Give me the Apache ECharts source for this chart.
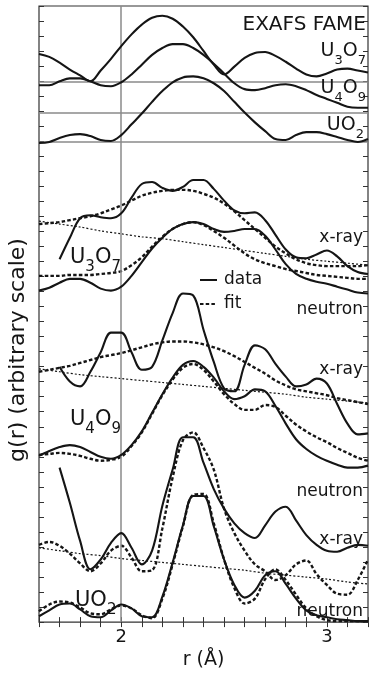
<!DOCTYPE html>
<html>
<head>
<meta charset="utf-8">
<script src="https://cdn.jsdelivr.net/npm/echarts@6/dist/echarts.min.js"></script>
<style>
html,body{margin:0;padding:0;background:#fff;}
#chart{width:371px;height:675px;}
</style>
</head>
<body>
<div id="chart"></div>
<script>
// r grid (Å)
const R = [1.60,1.65,1.70,1.75,1.80,1.85,1.90,1.95,2.00,2.05,2.10,2.15,2.20,2.25,2.30,2.35,2.40,2.45,2.50,2.55,2.60,2.65,2.70,2.75,2.80,2.85,2.90,2.95,3.00,3.05,3.10,3.15,3.20];
const R_BG = [1.6,1.7,1.8,1.9,2.0,2.1,2.2,2.3,2.4,2.5,2.6,2.7,2.8,2.9,3.0,3.1,3.2];

// EXAFS FAME panel (arbitrary units)
const exafsU3O7 = [58.1,57.8,57.2,56.5,55.9,55.3,56.4,57.6,58.9,60.1,61.1,61.8,62.0,61.7,60.9,59.8,58.4,57.0,56.0,56.8,57.7,58.2,58.3,57.9,57.3,56.6,56.0,55.8,56.1,56.5,56.6,56.4,56.2];
const exafsU4O9 = [54.9,54.9,55.3,55.6,55.6,55.3,54.9,54.8,55.2,56.0,57.0,58.0,58.7,59.1,59.1,58.7,58.0,57.1,56.1,55.1,54.5,54.4,54.6,54.9,55.0,54.8,54.4,53.9,53.5,53.1,52.7,52.6,52.6];
const exafsUO2  = [49.0,49.1,49.5,49.8,49.9,49.7,49.3,49.2,49.8,50.9,52.0,53.2,54.3,55.2,55.7,55.8,55.6,55.1,54.3,53.2,52.1,51.1,50.2,49.4,49.3,49.8,50.1,50.1,49.9,49.6,49.3,49.1,49.4];
const exafsBaselines = [55.3, 52.1, 49.1];

// U3O7
const u3o7Xray     = [null,null,37.1,39.3,41.3,41.6,41.4,41.3,41.8,43.4,44.8,45.0,44.4,44.1,44.5,45.2,45.2,44.3,43.1,42.1,41.8,41.9,41.1,39.6,38.1,37.3,37.2,37.6,38.0,37.4,36.4,35.8,35.6];
const u3o7XrayFit  = [40.7,40.8,40.9,41.1,41.3,41.5,41.8,42.2,42.6,43.1,43.6,43.9,44.1,44.2,44.2,44.1,43.8,43.4,42.8,42.0,41.1,40.2,39.3,38.4,37.7,37.1,36.7,36.5,36.4,36.4,36.4,36.4,36.5];
const u3o7XrayBg   = [41.0,40.7,40.4,40.0,39.7,39.4,39.2,38.9,38.6,38.3,38.0,37.7,37.4,37.1,36.9,36.7,36.5];
const u3o7Neutron  = [33.9,34.2,34.7,35.1,35.1,34.7,34.1,33.9,34.3,35.4,36.8,38.2,39.3,40.2,40.7,40.9,40.7,40.2,39.9,40.0,40.2,40.2,39.5,38.1,36.6,35.6,35.1,34.8,34.6,34.3,34.0,33.7,33.6];
const u3o7NeutronFit = [35.4,35.4,35.4,35.5,35.5,35.5,35.6,35.7,35.9,36.5,37.3,38.4,39.4,40.2,40.7,40.9,40.6,40.0,39.3,38.5,37.7,37.1,36.7,36.4,36.1,35.9,35.7,35.5,35.4,35.3,35.2,35.1,35.1];

// U4O9
const u4o9Xray     = [null,null,26.1,24.6,24.1,25.6,27.6,29.6,29.6,27.6,25.8,26.1,28.8,31.6,33.6,33.4,29.9,26.6,23.9,23.6,26.3,28.3,27.9,26.4,25.1,24.1,24.3,24.9,24.4,22.3,20.3,19.2,19.3];
const u4o9XrayFit  = [25.6,25.8,26.0,26.2,26.5,26.8,27.1,27.3,27.5,27.8,28.1,28.4,28.6,28.7,28.7,28.6,28.4,28.1,27.7,27.2,26.6,26.0,25.4,24.7,24.2,23.8,23.6,23.4,23.2,22.9,22.7,22.5,22.3];
const u4o9XrayBg   = [25.9,25.6,25.3,25.1,24.9,24.7,24.5,24.3,24.1,23.9,23.7,23.5,23.3,23.0,22.8,22.6,22.4];
const u4o9Neutron  = [17.0,17.5,17.9,18.1,17.9,17.4,16.9,16.7,17.1,18.1,19.5,21.4,23.3,25.0,26.3,26.7,26.1,25.0,23.6,22.8,23.1,23.8,23.6,22.1,20.3,18.7,17.7,17.0,16.5,16.1,15.8,15.8,16.0];
const u4o9NeutronFit = [17.1,17.2,17.3,17.2,17.0,16.7,16.5,16.6,16.9,18.0,19.4,21.3,23.2,24.8,26.0,26.4,25.8,24.6,23.3,22.3,21.7,21.7,22.2,22.0,21.1,20.2,19.5,18.9,18.4,17.8,17.3,16.8,16.5];

// UO2
const uo2Xray      = [null,null,15.8,12.2,8.3,5.4,6.4,8.1,9.1,7.6,5.9,7.3,11.9,15.6,18.9,18.9,16.3,13.6,11.6,10.1,9.1,8.6,9.9,11.3,11.8,10.4,8.9,7.9,7.3,7.2,7.6,7.9,7.8];
const uo2XrayFit   = [7.9,8.2,7.8,7.0,6.0,5.2,6.0,7.3,7.8,6.6,5.2,5.3,9.6,14.8,18.6,19.4,17.8,15.6,11.6,9.1,7.3,5.9,5.2,4.3,4.8,5.9,6.3,4.9,3.8,2.9,2.8,4.3,6.4];
const uo2XrayBg    = [7.6,7.3,7.0,6.8,6.5,6.3,6.1,5.9,5.7,5.5,5.3,5.0,4.8,4.6,4.4,4.1,3.9];
const uo2Neutron   = [0.6,1.2,1.8,1.9,1.3,0.6,0.5,1.2,1.8,1.4,0.6,0.5,2.6,6.1,9.9,12.9,12.9,9.8,6.4,3.8,2.5,3.2,4.8,5.2,3.9,2.4,1.2,0.7,0.5,0.3,0.2,0.1,0.1];
const uo2NeutronFit= [1.1,1.8,2.1,2.0,1.5,0.9,0.8,1.3,1.7,1.4,0.7,0.4,2.4,5.9,9.8,13.0,13.1,10.1,6.4,3.5,1.9,2.4,4.4,5.4,4.3,2.8,1.4,0.6,0.2,0.1,0.1,0.1,0.1];

const X_MIN = 1.6, X_MAX = 3.2, Y_MIN = 0, Y_MAX = 63, Y_TICKS = 41;
const FONT = 'DejaVu Sans';
const INK = '#151515';

function pairs(xs, ys){ const out=[]; xs.forEach((x,i)=>{ if(ys[i]!==null) out.push([x, ys[i]]); }); return out; }

function solid(name, xs, ys){
  return {name, type:'line', data:pairs(xs,ys), symbol:'none', smooth:0.35, silent:true,
    lineStyle:{color:INK, width:2.1}, z:5};
}
function fit(name, xs, ys){
  return {name, type:'line', data:pairs(xs,ys), symbol:'none', smooth:0.35, silent:true,
    lineStyle:{color:INK, width:2.4, type:[3.5,2.2]}, z:4};
}
function bg(name, xs, ys){
  return {name, type:'line', data:pairs(xs,ys), symbol:'none', smooth:0.3, silent:true,
    lineStyle:{color:INK, width:1.2, type:[2,2]}, z:3};
}

const chart = echarts.init(document.getElementById('chart'), null, {renderer:'canvas'});

function richText(parts, subs){
  return parts.map((m,i)=> '{m|'+m+'}' + (subs[i] ? '{s|'+subs[i]+'}' : '')).join('');
}
// chemical formula label: main text top-aligned, subscripts pushed down
function formula(x, yTop, parts, subs, size, subSize, align){
  return {type:'text', x, y:yTop, z:10, silent:true,
    style:{text:richText(parts, subs), align:align||'right', verticalAlign:'top',
      rich:{
        m:{fontFamily:FONT, fontSize:size, fill:INK, verticalAlign:'top', lineHeight:size},
        s:{fontFamily:FONT, fontSize:subSize, fill:INK, verticalAlign:'top', lineHeight:subSize,
           padding:[Math.round(size*0.62),0,0,0]}
      }}};
}
function plainLabel(x, y, text, size, align){
  return {type:'text', x, y, z:10, silent:true,
    style:{text, fontFamily:FONT, fontSize:size, fill:INK, align:align||'right', verticalAlign:'middle'}};
}

const option = {
  animation:false,
  backgroundColor:'#fff',
  grid:{left:39, right:1, top:6, bottom:39, show:true, borderColor:'#333', borderWidth:1.2, backgroundColor:'transparent'},
  xAxis:[
    {type:'value', min:X_MIN, max:X_MAX, interval:0.1, position:'bottom',
     axisLine:{show:false}, splitLine:{show:false},
     axisTick:{inside:true, length:5, lineStyle:{color:'#333', width:1}},
     axisLabel:{margin:6, fontFamily:FONT, fontSize:18, color:INK,
       formatter:v=> Math.abs(v-2)<1e-6 ? '2' : (Math.abs(v-3)<1e-6 ? '3' : '')},
     name:'r (Å)', nameLocation:'middle', nameGap:17,
     nameTextStyle:{fontFamily:FONT, fontSize:19, color:INK, verticalAlign:'top'}},
    {type:'value', min:X_MIN, max:X_MAX, interval:0.1, position:'top',
     axisLine:{show:false}, splitLine:{show:false}, axisLabel:{show:false},
     axisTick:{inside:true, length:5, lineStyle:{color:'#333', width:1}}}
  ],
  yAxis:[
    {type:'value', min:Y_MIN, max:Y_MAX, interval:(Y_MAX-Y_MIN)/Y_TICKS, position:'left',
     axisLine:{show:false}, splitLine:{show:false}, axisLabel:{show:false},
     axisTick:{inside:true, length:5, lineStyle:{color:'#333', width:1}}},
    {type:'value', min:Y_MIN, max:Y_MAX, interval:(Y_MAX-Y_MIN)/Y_TICKS, position:'right',
     axisLine:{show:false}, splitLine:{show:false}, axisLabel:{show:false},
     axisTick:{inside:true, length:5, lineStyle:{color:'#333', width:1}}}
  ],
  graphic:[
    plainLabel(366, 25, 'EXAFS FAME', 20),
    formula(366, 42, ['U','O'], ['3','7'], 19, 13),
    formula(366, 79, ['U','O'], ['4','9'], 19, 13),
    formula(364, 116, ['UO'], ['2'], 19, 13),
    plainLabel(363, 238, 'x-ray', 17),
    formula(70, 247, ['U','O'], ['3','7'], 21, 15, 'left'),
    {type:'line', z:10, silent:true, shape:{x1:200,y1:280,x2:217,y2:280}, style:{stroke:INK, lineWidth:2}},
    plainLabel(224, 280, 'data', 17, 'left'),
    {type:'line', z:10, silent:true, shape:{x1:200,y1:304,x2:217,y2:304}, style:{stroke:INK, lineWidth:2, lineDash:[3.5,2.2]}},
    plainLabel(224, 304, 'fit', 17, 'left'),
    plainLabel(363, 310, 'neutron', 17),
    plainLabel(363, 370, 'x-ray', 17),
    formula(70, 409, ['U','O'], ['4','9'], 21, 15, 'left'),
    plainLabel(363, 492, 'neutron', 17),
    plainLabel(363, 540, 'x-ray', 17),
    formula(75, 590, ['UO'], ['2'], 21, 15, 'left'),
    plainLabel(363, 612, 'neutron', 17),
    {type:'text', x:18, y:350, rotation:Math.PI/2, z:10, silent:true,
     style:{text:'g(r) (arbitrary scale)', fontFamily:FONT, fontSize:22, fill:INK, align:'center', verticalAlign:'middle'}}
  ],
  series:[
    {type:'line', data:[], silent:true,
     markLine:{silent:true, symbol:'none', label:{show:false},
       lineStyle:{color:'#8a8a8a', width:1.5, type:'solid'},
       data:[{xAxis:2}].concat(exafsBaselines.map(v=>({yAxis:v})))}},
    solid('EXAFS U3O7', R, exafsU3O7),
    solid('EXAFS U4O9', R, exafsU4O9),
    solid('EXAFS UO2', R, exafsUO2),
    bg('U3O7 x-ray background', R_BG, u3o7XrayBg),
    fit('U3O7 x-ray fit', R, u3o7XrayFit),
    solid('U3O7 x-ray', R, u3o7Xray),
    fit('U3O7 neutron fit', R, u3o7NeutronFit),
    solid('U3O7 neutron', R, u3o7Neutron),
    bg('U4O9 x-ray background', R_BG, u4o9XrayBg),
    fit('U4O9 x-ray fit', R, u4o9XrayFit),
    solid('U4O9 x-ray', R, u4o9Xray),
    fit('U4O9 neutron fit', R, u4o9NeutronFit),
    solid('U4O9 neutron', R, u4o9Neutron),
    bg('UO2 x-ray background', R_BG, uo2XrayBg),
    fit('UO2 x-ray fit', R, uo2XrayFit),
    solid('UO2 x-ray', R, uo2Xray),
    fit('UO2 neutron fit', R, uo2NeutronFit),
    solid('UO2 neutron', R, uo2Neutron)
  ]
};
chart.setOption(option);
</script>
</body>
</html>
